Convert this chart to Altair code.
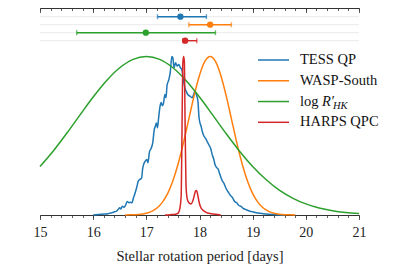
import altair as alt
import pandas as pd

# ---------------- data ----------------
series_names = ["TESS QP", "WASP-South", "log R'HK", "HARPS QPC"]
series_colors = ["#1f77b4", "#ff7f0e", "#2ca02c", "#d62728"]

# top panel: period estimates (center, lower, upper)
eb_center = [17.64, 18.20, 16.99, 17.73]
eb_lo = [17.21, 17.80, 15.69, 17.69]
eb_hi = [18.13, 18.60, 18.30, 17.95]

# TESS QP posterior (normalised)
blue_p = [16.00, 16.10, 16.20, 16.28, 16.32, 16.36, 16.40, 16.44, 16.47, 16.50,
          16.52, 16.55, 16.58, 16.61, 16.64, 16.67, 16.70, 16.73, 16.76, 16.79,
          16.82, 16.85, 16.88, 16.91, 16.93, 16.95, 16.98, 17.01, 17.03, 17.06,
          17.09, 17.12, 17.15, 17.17, 17.19, 17.21, 17.23, 17.26, 17.28, 17.30,
          17.32, 17.35, 17.37, 17.39, 17.42, 17.45, 17.48, 17.50, 17.52, 17.55,
          17.58, 17.61, 17.64, 17.67, 17.69, 17.72, 17.75, 17.78, 17.82, 17.86,
          17.89, 17.91, 17.94, 17.97, 17.99, 18.01, 18.03, 18.05, 18.08, 18.10,
          18.12, 18.15, 18.18, 18.21, 18.24, 18.27, 18.29, 18.32, 18.35, 18.37,
          18.40, 18.43, 18.46, 18.49, 18.52, 18.55, 18.58, 18.62, 18.66, 18.70,
          18.74, 18.78, 18.82, 18.86, 18.90, 18.95, 19.00, 19.05, 19.10, 19.20,
          19.30, 19.45, 19.60]
blue_v = [0.000, 0.003, 0.006, 0.008, 0.012, 0.015, 0.020, 0.024, 0.035, 0.045,
          0.038, 0.055, 0.048, 0.062, 0.085, 0.078, 0.080, 0.077, 0.110, 0.140,
          0.175, 0.215, 0.225, 0.232, 0.290, 0.320, 0.340, 0.350, 0.330, 0.400,
          0.420, 0.455, 0.540, 0.560, 0.580, 0.550, 0.610, 0.690, 0.710, 0.690,
          0.700, 0.760, 0.740, 0.820, 0.850, 0.900, 1.000, 0.990, 0.930, 0.960,
          0.940, 0.950, 0.930, 0.915, 0.870, 0.810, 0.780, 0.760, 0.750, 0.740,
          0.760, 0.780, 0.760, 0.720, 0.620, 0.580, 0.560, 0.530, 0.500, 0.490,
          0.480, 0.460, 0.440, 0.420, 0.380, 0.350, 0.320, 0.300, 0.290, 0.270,
          0.240, 0.215, 0.200, 0.175, 0.155, 0.140, 0.125, 0.110, 0.085, 0.077,
          0.060, 0.055, 0.042, 0.036, 0.030, 0.024, 0.020, 0.016, 0.012, 0.008,
          0.005, 0.002, 0.000]

# WASP-South
orange_p = [16.6, 16.7, 16.8, 16.9, 17.0, 17.1, 17.2, 17.3, 17.4, 17.5, 17.6,
            17.7, 17.8, 17.9, 18.0, 18.1, 18.2, 18.3, 18.4, 18.5, 18.6, 18.7,
            18.8, 18.9, 19.0, 19.1, 19.2, 19.3, 19.4, 19.5, 19.6, 19.7, 19.8]
orange_v = [0.000, 0.001, 0.002, 0.005, 0.011, 0.023, 0.044, 0.080, 0.135, 0.216,
            0.325, 0.458, 0.607, 0.755, 0.882, 0.969, 1.000, 0.969, 0.882, 0.755,
            0.607, 0.458, 0.325, 0.216, 0.135, 0.080, 0.044, 0.023, 0.011, 0.005,
            0.002, 0.001, 0.000]

# log R'HK
green_p = [15.0, 15.25, 15.5, 15.75, 16.0, 16.25, 16.5, 16.75, 17.0, 17.25,
           17.5, 17.75, 18.0, 18.25, 18.5, 18.75, 19.0, 19.25, 19.5, 19.75,
           20.0, 20.25, 20.5, 20.75, 21.0]
green_v = [0.306, 0.404, 0.514, 0.630, 0.744, 0.847, 0.929, 0.982, 1.000, 0.982,
           0.929, 0.847, 0.744, 0.630, 0.514, 0.404, 0.306, 0.224, 0.157, 0.107,
           0.070, 0.044, 0.027, 0.016, 0.009]

# HARPS QPC
red_p = [17.35, 17.45, 17.55, 17.60, 17.63, 17.655, 17.67, 17.685, 17.70, 17.715,
         17.73, 17.745, 17.76, 17.78, 17.81, 17.84, 17.87, 17.90, 17.925, 17.945,
         17.965, 17.99, 18.02, 18.06, 18.10, 18.15, 18.22, 18.30, 18.40]
red_v = [0.000, 0.002, 0.005, 0.012, 0.040, 0.120, 0.500, 0.950, 1.000, 0.970,
         0.550, 0.200, 0.120, 0.090, 0.075, 0.070, 0.085, 0.120, 0.150, 0.155,
         0.130, 0.085, 0.050, 0.032, 0.022, 0.013, 0.008, 0.004, 0.000]

major_ticks = [15, 16, 17, 18, 19, 20, 21]
minor_ticks = [round(15 + 0.2 * i, 1) for i in range(31)]

# ---------------- layout ----------------
W, H = 319, 207
FONT = "Liberation Serif"
AX = "#333333"

xscale = alt.Scale(domain=[15, 21], nice=False, zero=False)
yscale_curve = alt.Scale(domain=[0, 1.306], nice=False, zero=False)
yscale_rows = alt.Scale(domain=[-0.0875, 25.79], reverse=True, nice=False, zero=False)

ax_bottom_major = alt.Axis(orient="bottom", values=major_ticks, tickSize=4.5, tickWidth=0.8,
                           tickColor=AX, domainColor=AX, domainWidth=1, grid=False,
                           labelFont=FONT, labelFontSize=14, labelColor="#222222",
                           labelPadding=6, format="d", labelOverlap=False,
                           labelFlush=False, labelBound=False,
                           title="Stellar rotation period [days]", titleFont=FONT,
                           titleFontSize=14.5, titleFontWeight="normal", titleColor="#222222",
                           titlePadding=10)
ax_bottom_minor = alt.Axis(orient="bottom", values=minor_ticks, tickSize=2.5, tickWidth=0.8,
                           tickColor=AX, domain=False, labels=False, grid=False, title=None)
ax_top_major = alt.Axis(orient="bottom", offset=-H, values=major_ticks, tickSize=4.5,
                        tickWidth=0.8, tickColor=AX, domainColor=AX, domainWidth=1,
                        labels=False, grid=False, title=None)
ax_top_minor = alt.Axis(orient="bottom", offset=-H, values=minor_ticks, tickSize=2.5,
                        tickWidth=0.8, tickColor=AX, domain=False, labels=False,
                        grid=False, title=None)


def curve(p, v, color, axis):
    df = pd.DataFrame({"p": p, "v": v})
    return alt.Chart(df).mark_line(color=color, strokeWidth=1.5, interpolate="monotone").encode(
        x=alt.X("p:Q", scale=xscale, axis=axis),
        y=alt.Y("v:Q", scale=yscale_curve, axis=None),
    )


blue = curve(blue_p, blue_v, series_colors[0], ax_bottom_major)
orange = curve(orange_p, orange_v, series_colors[1], ax_bottom_minor)
green = curve(green_p, green_v, series_colors[2], ax_top_major)
red = curve(red_p, red_v, series_colors[3], ax_top_minor)

# top panel
eb_df = pd.DataFrame({
    "row": [1, 2, 3, 4],
    "center": eb_center, "lo": eb_lo, "hi": eb_hi,
    "color": series_colors,
    "a": [15] * 4, "b": [21] * 4,
})
yrow = alt.Y("row:Q", scale=yscale_rows, axis=None)
grid = alt.Chart(eb_df).mark_rule(color="#ebebeb", strokeWidth=1).encode(
    x=alt.X("a:Q", scale=xscale, axis=None), x2="b:Q", y=yrow)
eb_line = alt.Chart(eb_df).mark_rule(strokeWidth=1.4).encode(
    x=alt.X("lo:Q", scale=xscale, axis=None), x2="hi:Q", y=yrow,
    color=alt.Color("color:N", scale=None))
cap_lo = alt.Chart(eb_df).mark_tick(orient="vertical", size=5, thickness=1.4).encode(
    x=alt.X("lo:Q", scale=xscale, axis=None), y=yrow, color=alt.Color("color:N", scale=None))
cap_hi = alt.Chart(eb_df).mark_tick(orient="vertical", size=5, thickness=1.4).encode(
    x=alt.X("hi:Q", scale=xscale, axis=None), y=yrow, color=alt.Color("color:N", scale=None))
dots = alt.Chart(eb_df).mark_circle(size=40, opacity=1).encode(
    x=alt.X("center:Q", scale=xscale, axis=None), y=yrow, color=alt.Color("color:N", scale=None))

# legend (drawn by hand to allow the subscript)
leg_df = pd.DataFrame({
    "idx": [0, 1, 2, 3],
    "label": ["TESS QP", "WASP-South", "log", "HARPS QPC"],
    "color": series_colors,
})
yleg = alt.Y("idx:Q", scale=alt.Scale(domain=[0, 3], range=[52, 114.3]), axis=None)
leg_lines = alt.Chart(leg_df).mark_rule(strokeWidth=1.5).encode(
    x=alt.value(218), x2=alt.value(249), y=yleg, color=alt.Color("color:N", scale=None))
leg_text = alt.Chart(leg_df).mark_text(align="left", baseline="middle", font=FONT,
                                       fontSize=14.5, color="#111111").encode(
    x=alt.value(260), y=yleg, text="label:N")
r_text = alt.Chart(pd.DataFrame({"t": ["R\u2032"]})).mark_text(
    align="left", baseline="middle", font=FONT, fontSize=14.5, fontStyle="italic",
    color="#111111").encode(x=alt.value(282), y=alt.value(93.7), text="t:N")
hk_text = alt.Chart(pd.DataFrame({"t": ["HK"]})).mark_text(
    align="left", baseline="middle", font=FONT, fontSize=10.5, fontStyle="italic",
    color="#111111").encode(x=alt.value(293), y=alt.value(97.5), text="t:N")

chart = alt.layer(
    grid, eb_line, cap_lo, cap_hi, dots,
    blue, orange, green, red,
    leg_lines, leg_text, r_text, hk_text,
).resolve_scale(y="independent").resolve_axis(x="independent").properties(
    width=W, height=H,
    autosize=alt.AutoSizeParams(type="none"),
    padding={"left": 32, "top": 0, "right": 32, "bottom": 51},
).configure_view(stroke=None)

chart.save("out.html", embed_options={"renderer": "svg", "actions": False})
